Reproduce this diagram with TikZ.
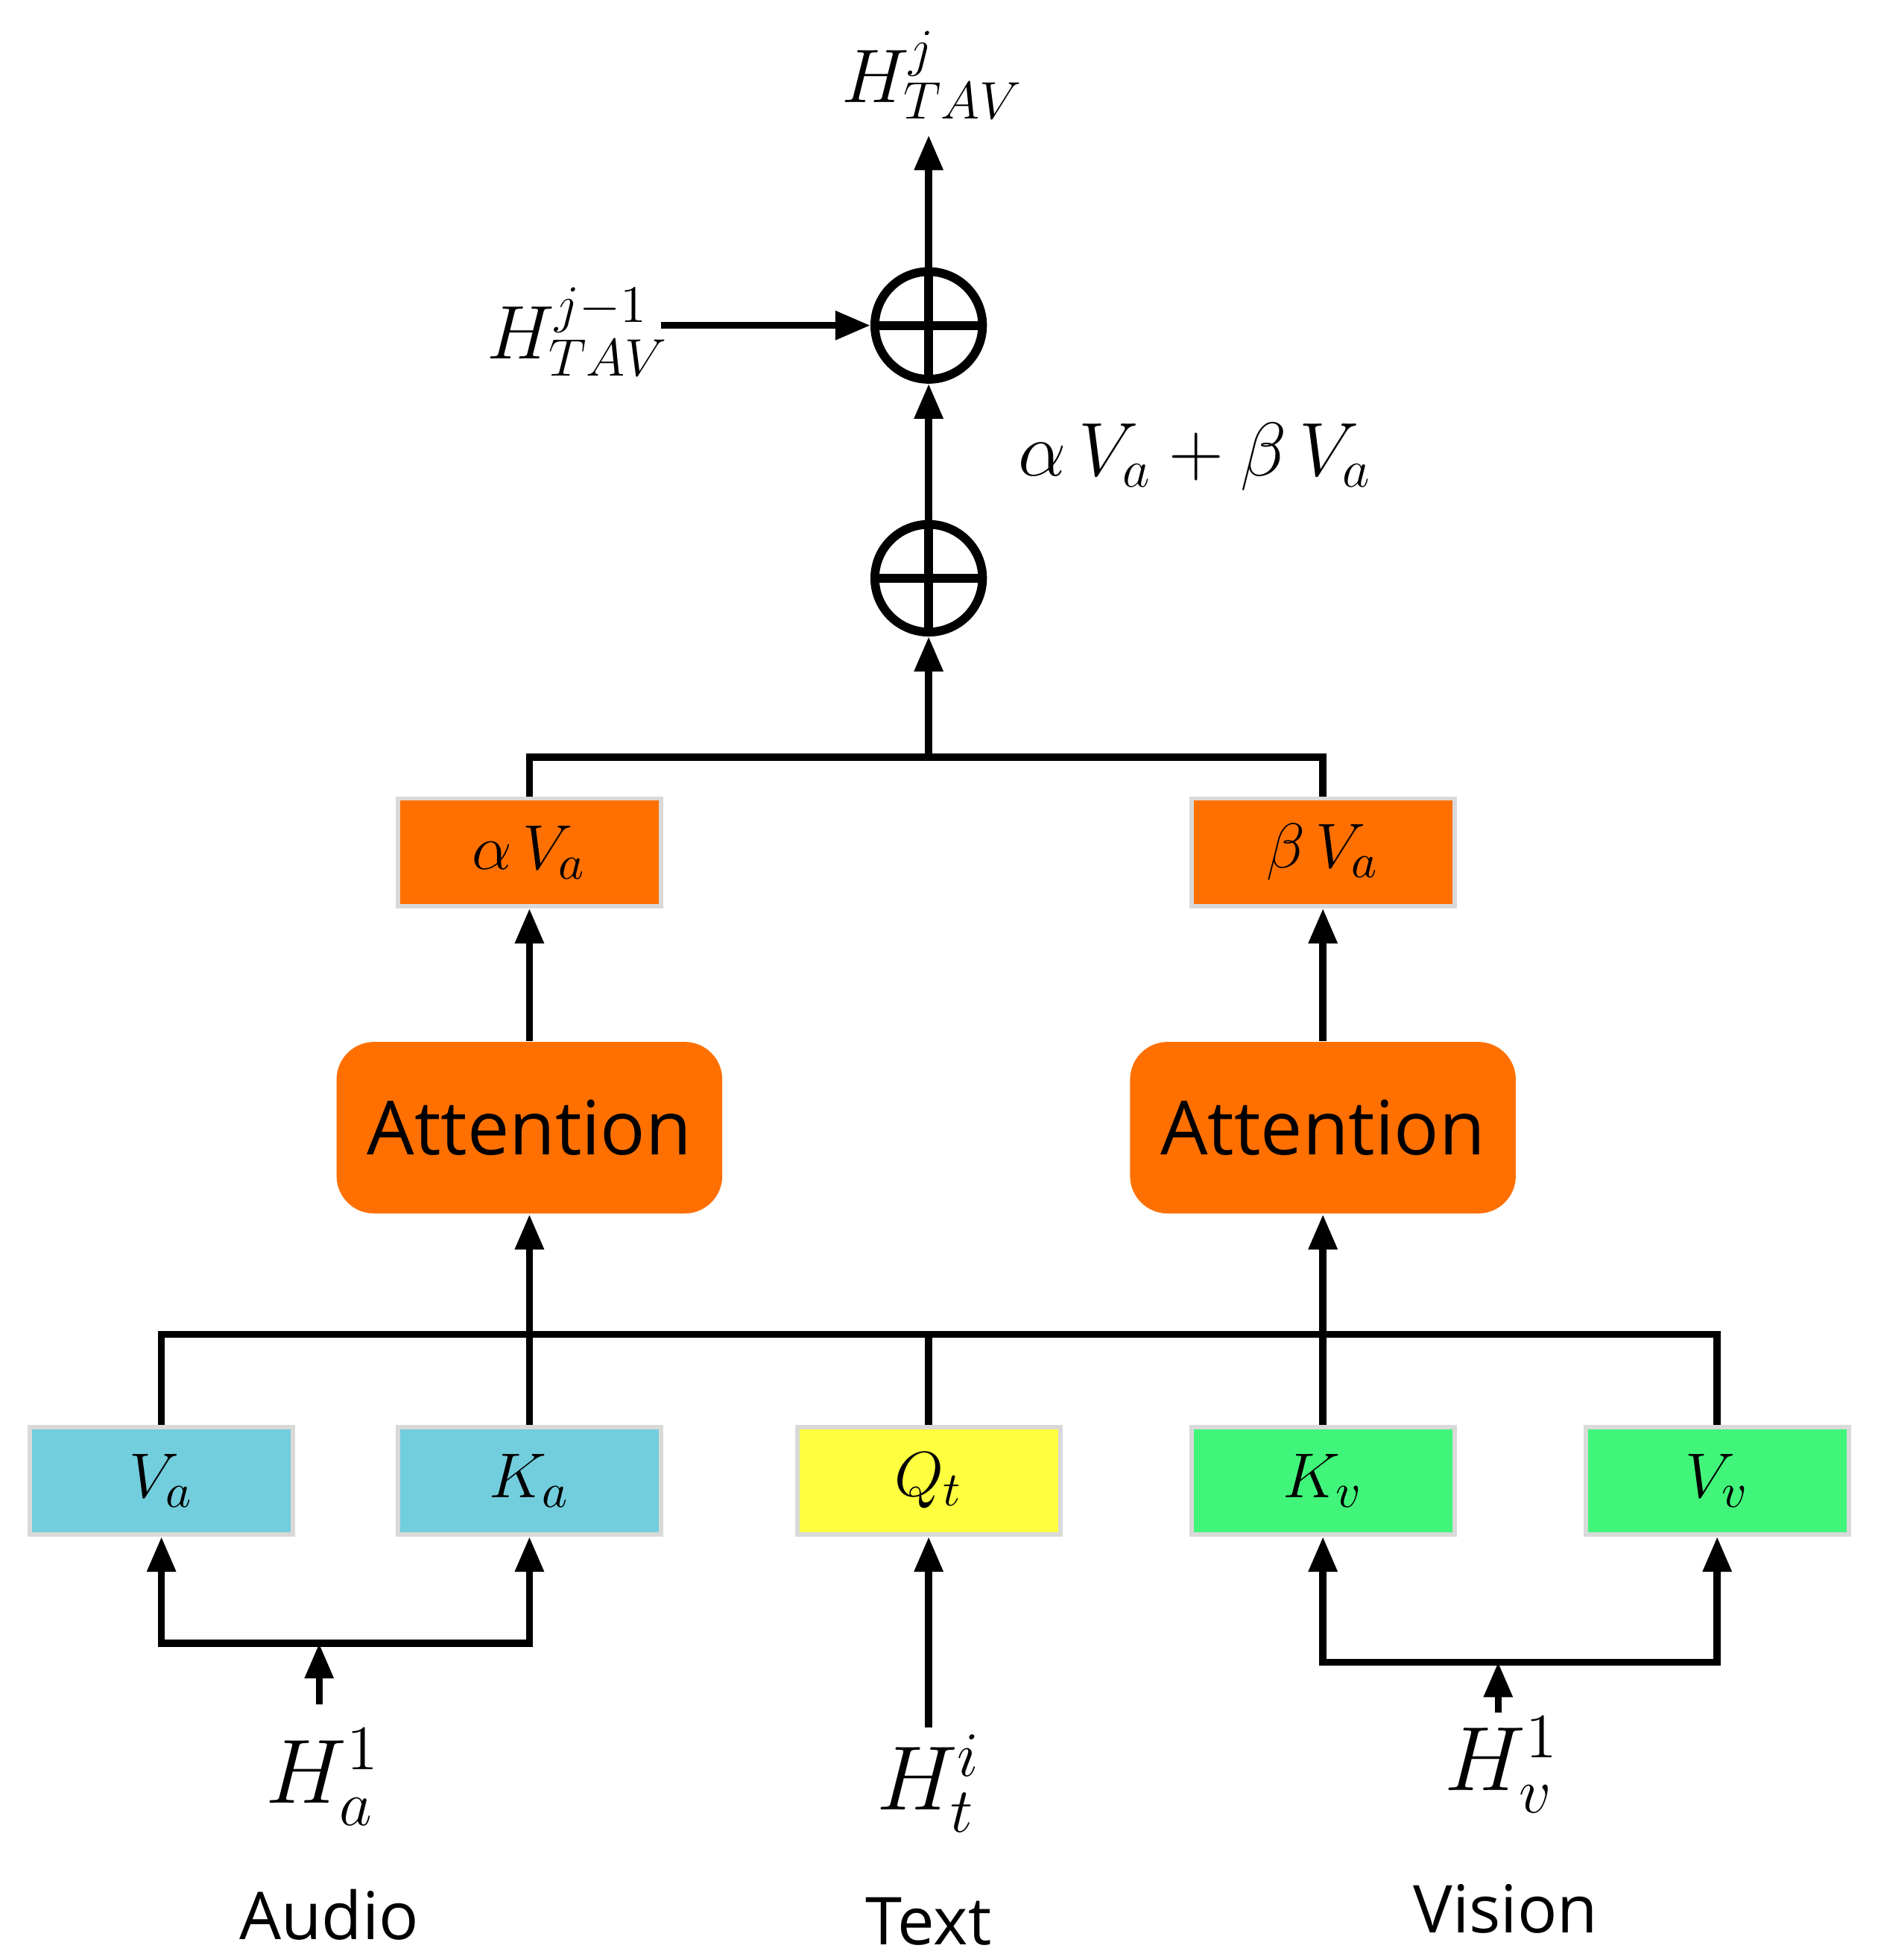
\documentclass[tikz,border=0pt]{standalone}
\usepackage{fontspec}
\newfontfamily\sff{Open Sans}
\usetikzlibrary{arrows.meta}
\definecolor{org}{HTML}{FF7000}
\definecolor{lblue}{HTML}{72CDDC}
\definecolor{yel}{HTML}{FFFF40}
\definecolor{grn}{HTML}{40F57A}
\begin{document}
\begin{tikzpicture}[x=0.01cm,y=-0.01cm,
  box/.style={draw=black!15,line width=1pt,minimum width=2.1cm,minimum height=0.86cm,font=\fontsize{15}{18}\selectfont,inner sep=0pt},
  att/.style={fill=org,rounded corners=0.3cm,minimum width=3.08cm,minimum height=1.37cm,font=\sff\fontsize{17}{20}\selectfont,inner sep=0pt},
  plus/.style={circle,draw,line width=2pt,minimum size=0.86cm,inner sep=0pt,path picture={\draw[line width=2pt](path picture bounding box.north)--(path picture bounding box.south)(path picture bounding box.west)--(path picture bounding box.east);}},
  ar/.style={-{Triangle[length=0.28cm,width=0.22cm]},line width=1.6pt},
  ln/.style={line width=1.6pt},
  hl/.style={font=\fontsize{22}{26}\selectfont},
  captxt/.style={font=\sff\fontsize{15}{18}\selectfont}]
\useasboundingbox (0,0) rectangle (1500,1566);
% top
\node (top) at (745,60) {\fontsize{18}{22}\selectfont$H^{j}_{TAV}$};
\node[plus] (p1) at (742,260) {};
\node[plus] (p2) at (742,462) {};
\node (hprev) at (462,265) {\fontsize{18}{22}\selectfont$H^{j-1}_{TAV}$};
\node at (955,365) {\fontsize{18}{22}\selectfont$\alpha\,V_a+\beta\,V_a$};
\coordinate (ttip) at (742,108);
\draw[ar] (p1.north) -- (ttip);
\draw[ar] (528,260) -- (p1.west);
\draw[ar] (p2.north) -- (p1.south);
% second level
\node[box,fill=org] (av) at (423,681) {$\alpha\,V_a$};
\node[box,fill=org] (bv) at (1057,681) {$\beta\,V_a$};
\coordinate (bus1) at (742,605);
\draw[ln] (av.north) |- (bus1) -| (bv.north);
\draw[ar] (bus1) -- (p2.south);
\node[att] (at1) at (423,901) {Attention};
\node[att] (at2) at (1057,901) {Attention};
\draw[ar] (at1.north) -- (av.south);
\draw[ar] (at2.north) -- (bv.south);
% inputs
\node[box,fill=lblue] (va) at (129,1183) {$V_a$};
\node[box,fill=lblue] (ka) at (423,1183) {$K_a$};
\node[box,fill=yel] (qt) at (742,1183) {$Q_t$};
\node[box,fill=grn] (kv) at (1057,1183) {$K_v$};
\node[box,fill=grn] (vv) at (1372,1183) {$V_v$};
\coordinate (b2) at (742,1066);
\draw[ln] (va.north) |- (b2) -| (vv.north);
\draw[ln] (qt.north) -- (b2);
\draw[ln] (ka.north) -- (423,1066);
\draw[ln] (kv.north) -- (1057,1066);
\draw[ar] (423,1066) -- (at1.south);
\draw[ar] (1057,1066) -- (at2.south);
% audio
\coordinate (aj) at (255,1313);
\draw[ar] (aj) -| (va.south);
\draw[ar] (aj) -| (ka.south);
\draw[ar] (255,1362) -- (aj);
\node[hl] (ha) at (258,1420) {$H_a^1$};
\node[captxt] (au) at (263,1530) {Audio};
% text
\node[hl] (ht) at (742,1425) {$H_t^i$};
\draw[ar] (742,1380) -- (qt.south);
\node[captxt] (tx) at (742,1535) {Text};
% vision
\coordinate (vj) at (1197,1328);
\draw[ar] (vj) -| (kv.south);
\draw[ar] (vj) -| (vv.south);
\draw[ar] (1197,1368) -- (vj);
\node[hl] (hv) at (1200,1410) {$H_v^1$};
\node[captxt] (vi) at (1203,1525) {Vision};
\end{tikzpicture}
\end{document}
